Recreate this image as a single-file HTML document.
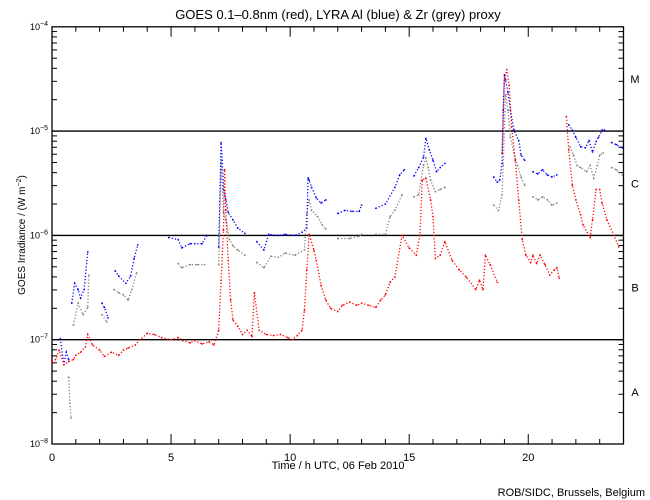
<!DOCTYPE html>
<html><head><meta charset="utf-8"><style>
body{margin:0;background:#fff}
svg{display:block;font-family:"Liberation Sans",sans-serif}
</style></head><body>
<svg id="chart" width="650" height="500" viewBox="0 0 650 500">
<rect x="0" y="0" width="650" height="500" fill="#fff"/>
<text x="338" y="19" font-size="13" text-anchor="middle">GOES 0.1–0.8nm (red), LYRA Al (blue) &amp; Zr (grey) proxy</text>
<g id="axes"></g>
<g id="series"></g>
<text x="338" y="469" font-size="11" text-anchor="middle">Time / h UTC, 06 Feb 2010</text>
<text transform="translate(25,235) rotate(-90)" font-size="10" text-anchor="middle">GOES Irradiance / (W m<tspan dy="-4" font-size="7">−2</tspan><tspan dy="4">)</tspan></text>
<text x="645" y="496" font-size="11" text-anchor="end">ROB/SIDC, Brussels, Belgium</text>
</svg>
<script>
const xTicksMajor = [0, 5, 10, 15, 20];
const yDecades = [-8, -7, -6, -5, -4];
const classLabels = ["A", "B", "C", "M"];
const classLogs = [-7.5, -6.5, -5.5, -4.5];

const redT = [0,0.15,0.3,0.5,0.7,0.9,1.0,1.2,1.4,1.5,1.7,2.0,2.2,2.5,2.8,3.0,3.2,3.5,3.7,4.0,4.3,4.6,5.0,5.3,5.5,5.8,6.0,6.3,6.6,6.8,7.0,7.1,7.2,7.25,7.3,7.4,7.5,7.6,7.8,8.0,8.2,8.4,8.5,8.7,9.0,9.3,9.6,9.9,10.1,10.3,10.5,10.6,10.7,10.8,11.0,11.1,11.3,11.5,11.7,12.0,12.2,12.5,12.8,13.0,13.3,13.6,13.8,14.0,14.2,14.4,14.7,15.0,15.3,15.45,15.55,15.7,15.9,16.0,16.1,16.3,16.5,16.8,17.1,17.4,17.8,17.95,18.1,18.2,18.4,18.7,null,18.9,19.0,19.1,19.2,19.3,19.45,19.6,19.75,19.9,20.1,20.2,20.35,20.5,20.7,20.9,21.1,21.2,21.3,null,21.6,21.7,21.85,22.0,22.2,22.3,22.6,22.7,22.85,23.0,23.1,23.3,23.6,23.8];
const redV = [-7.21,-7.19,-7.10,-7.24,-7.21,-7.19,-7.15,-7.12,-7.07,-6.95,-7.05,-7.10,-7.16,-7.12,-7.15,-7.10,-7.08,-7.05,-7.00,-6.94,-6.95,-6.98,-7.00,-6.98,-7.01,-7.03,-7.01,-7.04,-7.02,-7.05,-6.91,-6.43,-5.95,-5.37,-5.76,-6.24,-6.62,-6.81,-6.87,-6.95,-6.91,-6.97,-6.55,-6.91,-6.95,-6.96,-6.95,-6.98,-7.00,-6.96,-6.91,-6.72,-6.33,-5.99,-6.14,-6.24,-6.48,-6.62,-6.70,-6.73,-6.67,-6.64,-6.67,-6.65,-6.67,-6.69,-6.62,-6.57,-6.45,-6.40,-6.00,-6.12,-6.19,-6.00,-5.47,-5.45,-5.66,-5.82,-6.22,-6.19,-6.06,-6.24,-6.33,-6.40,-6.52,-6.43,-6.52,-6.19,-6.28,-6.45,null,-5.21,-4.51,-4.41,-4.56,-4.96,-5.28,-5.66,-6.04,-6.19,-6.26,-6.19,-6.27,-6.19,-6.28,-6.38,-6.33,-6.31,-6.41,null,-4.86,-5.18,-5.52,-5.66,-5.80,-5.90,-6.02,-5.85,-5.56,-5.56,-5.69,-5.85,-6.00,-6.11];

const blueT = [0.35,0.5,0.6,0.7,null,0.83,0.95,1.1,1.2,1.35,1.5,null,2.1,2.2,2.35,null,2.65,2.8,3.1,3.3,3.45,3.6,null,4.9,5.3,5.45,5.8,6.0,6.3,6.5,null,7.0,7.1,7.15,7.2,7.3,7.4,7.6,7.8,8.1,null,8.6,8.9,9.1,9.5,9.8,10.2,10.5,10.7,10.75,10.8,10.9,11.1,11.3,11.5,null,12.0,12.3,12.6,12.9,13.0,null,13.6,14.0,14.4,14.6,14.8,null,15.2,15.4,15.6,15.7,15.85,16.0,16.15,16.3,16.5,null,18.55,18.7,18.8,18.9,18.95,19.0,19.05,19.15,19.25,19.4,19.6,19.7,19.85,null,20.2,20.4,20.6,20.8,21.0,21.2,null,21.7,21.85,22.0,22.2,22.4,22.55,22.7,22.85,22.95,23.1,23.2,null,23.5,23.7,23.95];
const blueV = [-6.99,-7.24,-7.12,-7.19,null,-6.65,-6.46,-6.52,-6.60,-6.52,-6.16,null,-6.65,-6.69,-6.79,null,-6.34,-6.39,-6.46,-6.39,-6.22,-6.09,null,-6.02,-6.04,-6.12,-6.08,-6.08,-6.08,-6.00,null,-6.11,-5.11,-5.28,-5.56,-5.66,-5.78,-5.85,-5.93,-5.98,null,-6.06,-6.14,-5.99,-6.00,-5.99,-6.00,-5.97,-5.93,-5.45,-5.47,-5.54,-5.64,-5.69,-5.66,null,-5.79,-5.76,-5.77,-5.77,-5.71,null,-5.74,-5.70,-5.54,-5.42,-5.37,null,-5.43,-5.35,-5.25,-5.07,-5.18,-5.28,-5.39,-5.35,-5.31,null,-5.44,-5.49,-5.47,-5.31,-4.80,-4.46,-4.51,-4.63,-4.80,-4.99,-5.09,-5.23,-5.28,null,-5.39,-5.41,-5.37,-5.42,-5.44,-5.42,null,-4.94,-4.99,-5.06,-5.15,-5.16,-5.09,-5.20,-5.10,-5.06,-4.99,-4.99,null,-5.11,-5.13,-5.16];

const greyT = [0.7,0.75,0.8,null,0.9,1.1,1.3,1.5,1.55,null,2.1,2.3,null,2.6,2.8,3.0,3.2,3.35,3.55,null,5.3,5.45,5.8,6.1,6.4,null,7.0,7.1,7.2,7.3,7.45,7.6,7.8,8.1,null,8.6,8.9,9.2,9.5,9.8,10.2,10.6,10.7,10.8,10.9,11.15,11.35,11.5,null,12.0,12.5,12.9,13.0,null,13.6,14.0,14.2,14.4,14.7,null,15.2,15.4,15.6,15.7,15.8,15.9,16.1,16.3,16.5,null,18.55,18.75,18.9,18.95,19.05,19.15,19.25,19.4,19.55,19.7,19.85,null,20.2,20.4,20.6,20.8,21.0,21.2,null,21.75,21.9,22.05,22.2,22.45,22.6,22.75,22.9,23.0,23.15,null,23.5,23.7,23.95];
const greyV = [-7.36,-7.61,-7.75,null,-6.86,-6.65,-6.76,-6.69,-6.38,null,-6.76,-6.83,null,-6.52,-6.55,-6.57,-6.62,-6.52,-6.36,null,-6.27,-6.31,-6.28,-6.28,-6.28,null,-6.28,-5.30,-5.78,-5.85,-6.04,-6.10,-6.14,-6.19,null,-6.26,-6.31,-6.20,-6.21,-6.17,-6.19,-6.14,-5.79,-5.66,-5.76,-5.82,-5.90,-5.94,null,-6.03,-6.03,-6.01,-5.99,null,-5.99,-5.99,-5.82,-5.76,-5.61,null,-5.63,-5.61,-5.33,-5.26,-5.35,-5.47,-5.58,-5.56,-5.54,null,-5.71,-5.76,-5.61,-5.33,-4.65,-4.80,-5.06,-5.21,-5.33,-5.44,-5.52,null,-5.63,-5.66,-5.63,-5.66,-5.71,-5.69,null,-5.15,-5.23,-5.33,-5.35,-5.39,-5.33,-5.45,-5.33,-5.23,-5.21,null,-5.35,-5.37,-5.42];

const X0 = 52, X1 = 623.5, Y0 = 444, Y1 = 26.8;
function xs(h){ return X0 + h * (X1 - X0) / 24; }
function ys(l){ return Y0 - (l + 8) * (Y0 - Y1) / 4; }
const NS = "http://www.w3.org/2000/svg";
const axes = document.getElementById('axes');
const series = document.getElementById('series');
function mk(tag, attrs, parent){ const e = document.createElementNS(NS, tag); for (const k in attrs) e.setAttribute(k, attrs[k]); parent.appendChild(e); return e; }

const frame = mk('rect', {x:X0, y:Y1, width:X1-X0, height:Y0-Y1, fill:'none', stroke:'#000', 'stroke-width':1.3}, axes);



for (let h = 0; h <= 24; h++) {
  const big = xTicksMajor.includes(h);
  const L = big ? 10 : 5;
  const t1 = mk('line', {x1:xs(h), x2:xs(h), y1:Y0, y2:Y0-L, stroke:'#000', 'stroke-width':1}, axes);
  
  
  const t2 = mk('line', {x1:xs(h), x2:xs(h), y1:Y1, y2:Y1+L, stroke:'#000', 'stroke-width':1}, axes);
  
  
}
xTicksMajor.forEach(h => {
  const t = mk('text', {x:xs(h), y:Y0+17, 'font-size':11, 'text-anchor':'middle'}, axes);
  t.textContent = String(h);
  
  
});
for (let d = -8; d < -4; d++) {
  for (let m = 1; m <= 9; m++) {
    const l = d + Math.log10(m);
    const L = m === 1 ? 10 : 5;
    const a = mk('line', {x1:X0, x2:X0+L, y1:ys(l), y2:ys(l), stroke:'#000', 'stroke-width':1}, axes);
    
    
    const b = mk('line', {x1:X1, x2:X1-L, y1:ys(l), y2:ys(l), stroke:'#000', 'stroke-width':1}, axes);
    
    
  }
}
yDecades.forEach(d => {
  const t = mk('text', {x:X0-4, y:ys(d)+3, 'font-size':9, 'text-anchor':'end'}, axes);
  
  
  t.innerHTML = '10<tspan dy="-4" font-size="7">−' + (-d) + '</tspan>';
  if (d > -8 && d < -4) {
    const g = mk('line', {x1:X0, x2:X1, y1:ys(d), y2:ys(d), stroke:'#000', 'stroke-width':1.4}, axes);
    
    
  }
});
classLabels.forEach((c, i) => {
  const t = mk('text', {x:635, y:ys(classLogs[i])+4, 'font-size':11, 'text-anchor':'middle'}, axes);
  t.textContent = c;
  
  
});

function drawSeries(T, V, color, name) {
  let d = '', start = true;
  const g = mk('g', {}, series);
  
  
  for (let i = 0; i < T.length; i++) {
    if (T[i] === null || V[i] === null) { start = true; continue; }
    const x = xs(T[i]), y = ys(V[i]);
    d += (start ? 'M' : 'L') + x.toFixed(1) + ' ' + y.toFixed(1) + ' ';
    start = false;
    const r = mk('rect', {x:x-0.75, y:y-0.75, width:1.5, height:1.5, fill:color}, g);
    
    
  }
  const p = mk('path', {d:d, fill:'none', stroke:color, 'stroke-width':1.3, 'stroke-dasharray':'1.2 2'}, g);
  
  
}
drawSeries(greyT, greyV, '#808080', 'zr-grey-series');
drawSeries(blueT, blueV, '#0000ff', 'al-blue-series');
drawSeries(redT, redV, '#ff0000', 'goes-red-series');
</script>
</body></html>
